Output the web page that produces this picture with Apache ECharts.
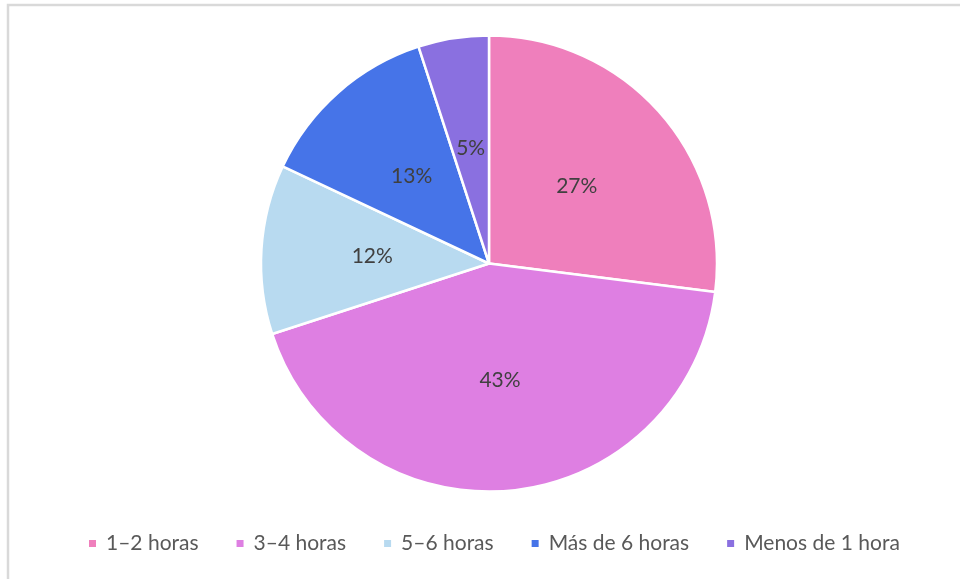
<!DOCTYPE html>
<html><head><meta charset="utf-8">
<script src="https://cdn.jsdelivr.net/npm/echarts@6/dist/echarts.min.js"></script>
<style>html,body{margin:0;padding:0;background:#fff}#c{width:960px;height:579px}</style>
</head><body><div id="c"></div>
<script>
const categories = ['1–2 horas', '3–4 horas', '5–6 horas', 'Más de 6 horas', 'Menos de 1 hora'];
const values = [27, 43, 12, 13, 5];
const colors = ['#EF7FBC', '#DE7FE2', '#B8DAF0', '#4674E8', '#8A70E0'];

const chart = echarts.init(document.getElementById('c'), null, {renderer: 'canvas'});
chart.setOption({
  animation: false,
  color: colors,
  graphic: [{
    type: 'polyline', silent: true,
    shape: {points: [[8, 579], [8, 5], [960, 5]]},
    style: {stroke: '#D9D9D9', lineWidth: 2.5, fill: null}
  }],
  legend: {
    bottom: 20, left: 82,
    itemWidth: 9, itemHeight: 9, itemGap: 36,
    icon: 'rect',
    textStyle: {fontFamily: 'Lato', fontSize: 21, color: '#595959', padding: [0, 0, 0, 4]},
    data: categories
  },
  series: [{
    type: 'pie',
    center: [489, 263.5],
    radius: [0, 228],
    startAngle: 90,
    clockwise: true,
    data: categories.map((n, i) => ({name: n, value: values[i]})),
    itemStyle: {borderColor: '#fff', borderWidth: 2.5},
    label: {
      position: 'inside',
      formatter: '{c}%',
      fontFamily: 'Lato', fontSize: 21, color: '#404040'
    },
    labelLine: {show: false}
  }]
});
</script></body></html>
